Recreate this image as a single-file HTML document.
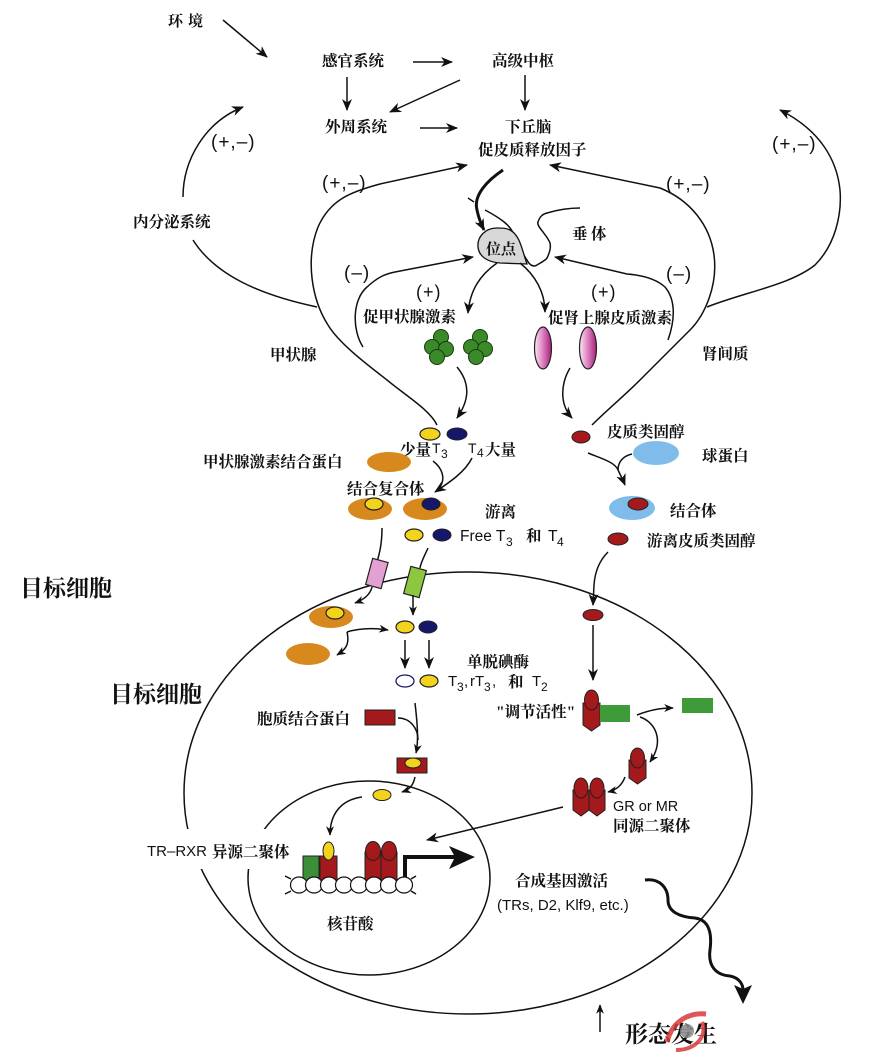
<!DOCTYPE html>
<html><head><meta charset="utf-8"><style>
html,body{margin:0;padding:0;background:#fff;}
svg{display:block;}
.cn{font-family:"Liberation Serif","Noto Serif CJK SC",serif;font-weight:bold;font-size:15.5px;fill:#111;}
.en{font-family:"Liberation Sans",sans-serif;font-size:15px;fill:#111;}
.pm{font-family:"Liberation Sans",sans-serif;font-size:19px;letter-spacing:1px;fill:#111;}
.ln{fill:none;stroke:#111;stroke-width:1.5;}
</style></head><body>
<svg width="869" height="1061" viewBox="0 0 869 1061" xmlns="http://www.w3.org/2000/svg">
<defs>
<marker id="a" viewBox="0 0 12 10" refX="11" refY="5" markerWidth="12" markerHeight="10" markerUnits="userSpaceOnUse" orient="auto"><path d="M0,0 L12,5 L0,10 L3.5,5 Z" fill="#111"/></marker>
<marker id="s" viewBox="0 0 12 10" refX="11" refY="5" markerWidth="10" markerHeight="8" markerUnits="userSpaceOnUse" orient="auto"><path d="M0,0 L12,5 L0,10 L3.5,5 Z" fill="#111"/></marker>
<linearGradient id="pk" x1="0" y1="0" x2="1" y2="0"><stop offset="0" stop-color="#fbe8f4"/><stop offset="0.5" stop-color="#dc7fbf"/><stop offset="1" stop-color="#a8207a"/></linearGradient>
</defs>
<rect width="869" height="1061" fill="#fff"/>

<!-- top texts -->
<text class="cn" x="168" y="26" style="font-size:15px">环</text>
<text class="cn" x="188" y="26" style="font-size:15px">境</text>
<text class="cn" x="322" y="66">感官系统</text>
<text class="cn" x="492" y="66">高级中枢</text>
<text class="cn" x="325" y="132">外周系统</text>
<text class="cn" x="505" y="132">下丘脑</text>
<text class="cn" x="478" y="155">促皮质释放因子</text>
<text class="cn" x="133" y="227">内分泌系统</text>
<text class="cn" x="572" y="239">垂</text>
<text class="cn" x="591" y="239">体</text>
<text class="cn" x="363" y="322">促甲状腺激素</text>
<text class="cn" x="548" y="323">促肾上腺皮质激素</text>
<text class="cn" x="270" y="360">甲状腺</text>
<text class="cn" x="702" y="359">肾间质</text>

<text class="pm" x="211" y="148">(+,–)</text>
<text class="pm" x="322" y="189">(+,–)</text>
<text class="pm" x="666" y="190">(+,–)</text>
<text class="pm" x="772" y="150">(+,–)</text>
<text class="pm" x="344" y="279">(–)</text>
<text class="pm" x="666" y="280">(–)</text>
<text class="pm" x="416" y="298" style="font-size:18px">(+)</text>
<text class="pm" x="591" y="298" style="font-size:18px">(+)</text>

<!-- top arrows -->
<path class="ln" d="M223,20 L267,57" marker-end="url(#a)"/>
<path class="ln" d="M413,62 L452,62" marker-end="url(#a)"/>
<path class="ln" d="M347,77 L347,110" marker-end="url(#a)"/>
<path class="ln" d="M460,80 L390,112" marker-end="url(#a)"/>
<path class="ln" d="M525,75 L525,110" marker-end="url(#a)"/>
<path class="ln" d="M420,128 L457,128" marker-end="url(#a)"/>

<!-- left loops -->
<path class="ln" d="M183,197 C183,160 205,122 243,107" marker-end="url(#a)"/>
<path class="ln" d="M193,240 C215,275 260,295 317,307"/>
<path class="ln" d="M437,425 C430,410 405,395 387,380 C372,368 340,345 328,325 C312,300 305,260 318,227 C330,200 350,192 380,184 L467,165" marker-end="url(#a)"/>
<path class="ln" d="M363,347 C352,330 352,300 367,287 C378,277 385,274 395,272 L473,257" marker-end="url(#a)"/>

<!-- right loops -->
<path class="ln" d="M592,425 C605,412 625,395 640,380 C655,365 675,345 690,330 C705,315 718,285 714,255 C710,225 690,200 660,188 L550,165" marker-end="url(#a)"/>
<path class="ln" d="M668,340 C675,320 676,300 665,287 C655,278 640,275 627,274 L555,257" marker-end="url(#a)"/>
<path class="ln" d="M707,307 C745,292 790,285 815,265 C835,245 842,215 840,190 C837,160 820,130 780,110" marker-end="url(#a)"/>

<!-- pituitary -->
<path d="M503,170 C488,180 473,195 477,210 C479,220 482,226 484,230" fill="none" stroke="#111" stroke-width="3" marker-end="url(#a)"/>
<path class="ln" d="M468,198 L474,202"/>
<path class="ln" d="M485,210 C500,218 510,225 513,233 C520,245 523,255 527,260 C530,266 534,267 537,265 C542,262 546,260 547,258 C550,252 551,247 550,243 C548,238 545,235 543,232 C539,227 537,224 538,222 C540,216 543,214 547,213 C557,210 568,208 580,208"/>
<path d="M497,228 C485,228 477,237 478,247 C479,257 488,262 500,263 L527,264 C522,250 520,235 510,230 C506,228 502,228 497,228 Z" fill="#d8d8d8" stroke="#111" stroke-width="1.3"/>
<text class="cn" x="486" y="254" style="font-size:15px">位点</text>
<path class="ln" d="M497,263 C480,275 470,290 468,313" marker-end="url(#a)"/>
<path class="ln" d="M520,263 C535,275 545,292 545,312" marker-end="url(#a)"/>

<!-- TSH clusters -->
<g fill="#3b8a2a" stroke="#1a3a10" stroke-width="1">
<circle cx="441" cy="337" r="7.5"/><circle cx="432" cy="347" r="7.5"/><circle cx="446" cy="349" r="7.5"/><circle cx="437" cy="357" r="7.5"/>
<circle cx="480" cy="337" r="7.5"/><circle cx="471" cy="347" r="7.5"/><circle cx="485" cy="349" r="7.5"/><circle cx="476" cy="357" r="7.5"/>
</g>
<!-- ACTH -->
<ellipse cx="543" cy="348" rx="8.5" ry="21" fill="url(#pk)" stroke="#222" stroke-width="1.2"/>
<ellipse cx="588" cy="348" rx="8.5" ry="21" fill="url(#pk)" stroke="#222" stroke-width="1.2"/>

<path class="ln" d="M457,367 C472,385 468,402 457,418" marker-end="url(#a)"/>
<path class="ln" d="M570,368 C560,385 560,405 572,418" marker-end="url(#a)"/>

<!-- T3/T4 -->
<ellipse cx="430" cy="434" rx="10" ry="6" fill="#f4d31c" stroke="#222" stroke-width="1.2"/>
<ellipse cx="457" cy="434" rx="10" ry="6" fill="#15186a" stroke="#222" stroke-width="1"/>
<text class="cn" x="400" y="455">少量</text><text class="en" x="432" y="453" style="font-size:14px">T</text><text class="en" x="441" y="458" style="font-size:12px">3</text>
<text class="en" x="468" y="453" style="font-size:14px">T</text><text class="en" x="477" y="457" style="font-size:12px">4</text><text class="cn" x="485" y="455">大量</text>
<ellipse cx="389" cy="462" rx="22" ry="10" fill="#d8891e"/>
<text class="cn" x="203" y="467">甲状腺激素结合蛋白</text>
<path class="ln" d="M433,461 C442,468 446,478 440,487"/>
<path class="ln" d="M472,458 C465,472 450,482 435,492" marker-end="url(#a)"/>
<text class="cn" x="347" y="494">结合复合体</text>
<ellipse cx="370" cy="509" rx="22" ry="11" fill="#d8891e"/>
<ellipse cx="374" cy="504" rx="9" ry="6" fill="#f4d31c" stroke="#222" stroke-width="1.2"/>
<ellipse cx="425" cy="509" rx="22" ry="11" fill="#d8891e"/>
<ellipse cx="431" cy="504" rx="9" ry="6" fill="#15186a" stroke="#222" stroke-width="1"/>
<text class="cn" x="485" y="517">游离</text>
<ellipse cx="414" cy="535" rx="9" ry="6" fill="#f4d31c" stroke="#222" stroke-width="1.2"/>
<ellipse cx="442" cy="535" rx="9" ry="6" fill="#15186a" stroke="#222" stroke-width="1"/>
<text class="en" x="460" y="541" style="font-size:15.5px">Free T</text><text class="en" x="506" y="546" style="font-size:12px">3</text>
<text class="cn" x="526" y="541">和</text>
<text class="en" x="548" y="541" style="font-size:15.5px">T</text><text class="en" x="557" y="546" style="font-size:12px">4</text>

<!-- cortisol -->
<ellipse cx="581" cy="437" rx="9" ry="6" fill="#a3191c" stroke="#222" stroke-width="1"/>
<text class="cn" x="607" y="437">皮质类固醇</text>
<ellipse cx="656" cy="453" rx="23" ry="12" fill="#80bce9"/>
<text class="cn" x="702" y="461">球蛋白</text>
<path class="ln" d="M588,453 C600,458 615,462 618,470 C621,476 623,480 625,485" marker-end="url(#a)"/>
<path class="ln" d="M632,454 C623,456 618,462 618,470"/>
<ellipse cx="632" cy="508" rx="23" ry="12" fill="#80bce9"/>
<ellipse cx="638" cy="504" rx="10" ry="6" fill="#a3191c" stroke="#222" stroke-width="1"/>
<text class="cn" x="670" y="516">结合体</text>
<ellipse cx="618" cy="539" rx="10" ry="6" fill="#a3191c" stroke="#222" stroke-width="1"/>
<text class="cn" x="647" y="546">游离皮质类固醇</text>
<path class="ln" d="M608,552 C600,560 595,570 594,585 L593,605" marker-end="url(#a)"/>

<!-- big labels -->
<text class="cn" x="20" y="596" style="font-size:23px">目标细胞</text>
<text class="cn" x="110" y="702" style="font-size:23px">目标细胞</text>

<!-- cell -->
<ellipse cx="468" cy="793" rx="284" ry="221" fill="none" stroke="#111" stroke-width="1.5"/>
<ellipse cx="369" cy="878" rx="121" ry="97" fill="none" stroke="#111" stroke-width="1.5"/>
<rect x="143" y="829" width="150" height="40" fill="#fff"/>
<text class="en" x="147" y="856" style="font-size:15px">TR–RXR</text>
<text class="cn" x="212" y="857">异源二聚体</text>

<!-- receptors at membrane -->
<path class="ln" d="M382,528 C382,545 379,555 377,562"/>
<path class="ln" d="M428,548 C424,557 421,562 420,568"/>
<rect x="369" y="560" width="16" height="27" fill="#e3a0d2" stroke="#222" stroke-width="1.2" transform="rotate(15 377 573)"/>
<rect x="407" y="568" width="16" height="28" fill="#8dc63f" stroke="#222" stroke-width="1.2" transform="rotate(15 415 582)"/>
<path class="ln" d="M372,587 C370,595 363,600 355,603" marker-end="url(#s)"/>
<path class="ln" d="M413,595 L413,615" marker-end="url(#s)"/>

<ellipse cx="331" cy="617" rx="22" ry="11" fill="#d8891e"/>
<ellipse cx="335" cy="613" rx="9" ry="6" fill="#f4d31c" stroke="#222" stroke-width="1.2"/>
<ellipse cx="308" cy="654" rx="22" ry="11" fill="#d8891e"/>
<path class="ln" d="M347,632 C350,645 345,650 337,655" marker-end="url(#s)"/>
<path class="ln" d="M347,632 C360,628 375,628 388,630" marker-end="url(#s)"/>
<ellipse cx="405" cy="627" rx="9" ry="6" fill="#f4d31c" stroke="#222" stroke-width="1.2"/>
<ellipse cx="428" cy="627" rx="9" ry="6" fill="#15186a" stroke="#222" stroke-width="1"/>
<path class="ln" d="M405,640 L405,668" marker-end="url(#a)"/>
<path class="ln" d="M429,640 L429,668" marker-end="url(#a)"/>
<ellipse cx="405" cy="681" rx="9" ry="6" fill="#fff" stroke="#15186a" stroke-width="1.3"/>
<ellipse cx="429" cy="681" rx="9" ry="6" fill="#f4d31c" stroke="#222" stroke-width="1.2"/>
<text class="cn" x="467" y="667">单脱碘酶</text>
<text class="en" x="448" y="686">T</text><text class="en" x="457" y="691" style="font-size:12px">3</text><text class="en" x="464" y="686">,</text><text class="en" x="470" y="686">rT</text><text class="en" x="484" y="691" style="font-size:12px">3</text><text class="en" x="492" y="686">,</text>
<text class="cn" x="508" y="687">和</text>
<text class="en" x="532" y="686">T</text><text class="en" x="541" y="691" style="font-size:12px">2</text>

<text class="cn" x="257" y="724">胞质结合蛋白</text>
<rect x="365" y="710" width="30" height="15" fill="#a3191c" stroke="#222" stroke-width="1"/>
<path class="ln" d="M415,703 C417,720 419,740 416,753" marker-end="url(#s)"/>
<path class="ln" d="M398,718 C410,718 418,728 418,740"/>
<rect x="397" y="758" width="30" height="15" fill="#a3191c" stroke="#222" stroke-width="1"/>
<ellipse cx="413" cy="763" rx="8" ry="5" fill="#f4d31c" stroke="#222" stroke-width="1"/>
<path class="ln" d="M415,777 C413,787 408,790 402,792" marker-end="url(#s)"/>
<ellipse cx="382" cy="795" rx="9" ry="5.5" fill="#f4d31c" stroke="#222" stroke-width="1"/>
<path class="ln" d="M362,797 C340,800 330,815 330,835" marker-end="url(#s)"/>

<!-- GR path -->
<ellipse cx="593" cy="615" rx="10" ry="5.5" fill="#a3191c" stroke="#222" stroke-width="1"/>
<path class="ln" d="M593,625 L593,680" marker-end="url(#a)"/>
<text class="cn" x="496" y="717">"调节活性"</text>
<g fill="#a3191c" stroke="#222" stroke-width="1">
<path d="M583,703 L600,703 L600,725 L591.5,731 L583,725 Z"/>
<ellipse cx="591.5" cy="700" rx="7" ry="10"/>
<path d="M629,760 L646,760 L646,778 L637.5,784 L629,778 Z"/>
<ellipse cx="637.5" cy="758" rx="7" ry="10"/>
<path d="M573,790 L589,790 L589,810 L581,816 L573,810 Z"/>
<ellipse cx="581" cy="788" rx="7" ry="10"/>
<path d="M589,790 L605,790 L605,810 L597,816 L589,810 Z"/>
<ellipse cx="597" cy="788" rx="7" ry="10"/>
</g>
<rect x="600" y="705" width="30" height="17" fill="#3f9a3a"/>
<path class="ln" d="M637,715 C650,710 660,708 673,708" marker-end="url(#s)"/>
<rect x="682" y="698" width="31" height="15" fill="#3f9a3a"/>
<path class="ln" d="M640,717 C655,722 665,740 650,762" marker-end="url(#s)"/>
<path class="ln" d="M625,777 C622,785 617,790 608,792" marker-end="url(#s)"/>
<text class="en" x="613" y="811" style="font-size:14.5px">GR or MR</text>
<text class="cn" x="613" y="831">同源二聚体</text>
<path class="ln" d="M563,807 L427,840" marker-end="url(#a)"/>

<!-- DNA complex -->
<g stroke="#222" stroke-width="1">
<path d="M303,856 L319,856 L319,880 L311,884 L303,880 Z" fill="#3c8f36"/>
<path d="M320,856 L337,856 L337,880 L328.5,884 L320,880 Z" fill="#a3191c"/>
<ellipse cx="328.5" cy="851" rx="5.5" ry="9" fill="#f4d31c"/>
<path d="M365,852 L381,852 L381,880 L373,884 L365,880 Z" fill="#a3191c"/>
<ellipse cx="373" cy="851" rx="7.5" ry="9.5" fill="#a3191c"/>
<path d="M381,852 L397,852 L397,880 L389,884 L381,880 Z" fill="#a3191c"/>
<ellipse cx="389" cy="851" rx="7.5" ry="9.5" fill="#a3191c"/>
</g>
<g fill="#fff" stroke="#111" stroke-width="1.2">
<ellipse cx="299" cy="885" rx="8.5" ry="8"/>
<ellipse cx="314" cy="885" rx="8.5" ry="8"/>
<ellipse cx="329" cy="885" rx="8.5" ry="8"/>
<ellipse cx="344" cy="885" rx="8.5" ry="8"/>
<ellipse cx="359" cy="885" rx="8.5" ry="8"/>
<ellipse cx="374" cy="885" rx="8.5" ry="8"/>
<ellipse cx="389" cy="885" rx="8.5" ry="8"/>
<ellipse cx="404" cy="885" rx="8.5" ry="8"/>
</g>
<path class="ln" d="M291,879 L285,876 M291,891 L285,894 M411,879 L416,876 M411,891 L416,894"/>
<path d="M405,877 L405,857 L458,857" fill="none" stroke="#111" stroke-width="4"/>
<path d="M475,857 L449,846 L455,857 L449,869 Z" fill="#111"/>
<text class="cn" x="327" y="929">核苷酸</text>

<!-- gene activation -->
<text class="cn" x="515" y="886">合成基因激活</text>
<text class="en" x="497" y="910">(TRs, D2, Klf9, etc.)</text>
<path d="M645,880 C660,878 668,888 668,900 C668,912 680,917 695,918 C710,920 712,935 710,950 C708,965 715,975 730,976 C740,978 743,985 743,990" fill="none" stroke="#111" stroke-width="3"/>
<path d="M743,1004 L734,985 L743,989 L752,985 Z" fill="#111"/>
<path class="ln" d="M600,1032 L600,1005" marker-end="url(#s)"/>
<text class="cn" x="625" y="1042" style="font-size:23px">形态发生</text>
<g opacity="0.85">
<path d="M667,1042 C672,1022 688,1012 706,1014" fill="none" stroke="#d83a3a" stroke-width="5"/>
<path d="M676,1050 C694,1050 708,1038 702,1022" fill="none" stroke="#d83a3a" stroke-width="4"/>
<circle cx="687" cy="1031" r="7" fill="#8a8a8a"/>
</g>
</svg>
</body></html>
